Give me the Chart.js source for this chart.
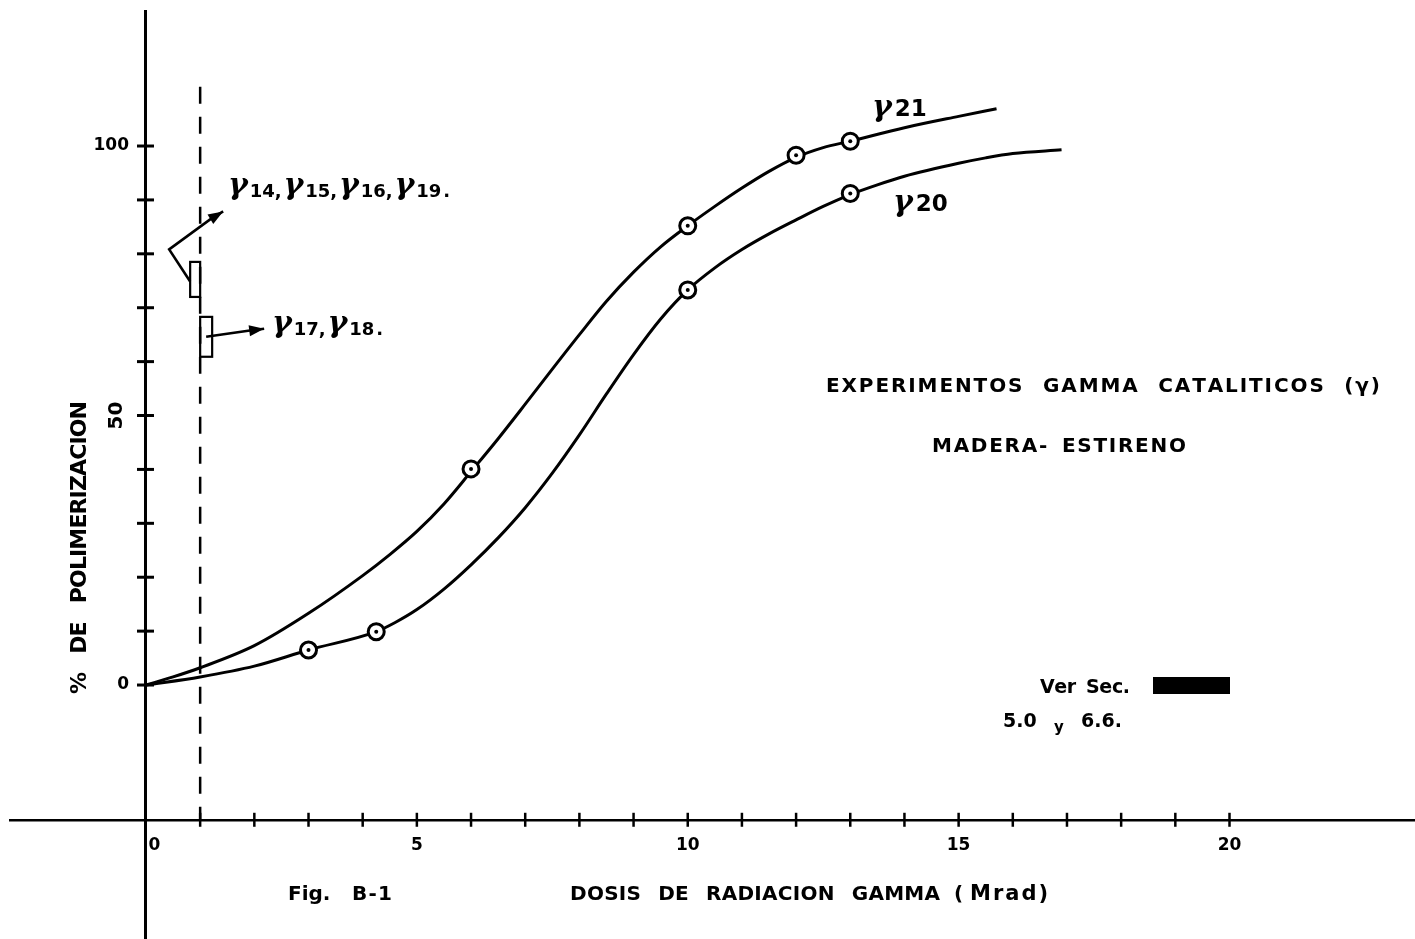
<!DOCTYPE html>
<html>
<head>
<meta charset="utf-8">
<title>Fig. B-1 Madera-Estireno</title>
<script src="https://cdn.jsdelivr.net/npm/chart.js@4.4.1/dist/chart.umd.min.js"></script>
<style>
  html, body { margin: 0; padding: 0; background: #fff; overflow: hidden; }
  canvas { display: block; }
</style>
</head>
<body>
<canvas id="c" width="1415" height="939"></canvas>
<script>
// ---- data: dose (Mrad) vs % polimerizacion ----
// smooth curves as drawn
const g21CurveDose  = [0, 0.5, 1, 2, 3, 4, 4.5, 5, 5.5, 6, 6.5, 7, 7.5, 8, 8.5, 9, 9.5, 10, 10.5, 11, 11.5, 12, 12.5, 13, 14, 15, 15.7];
const g21CurveYield = [0, 1.5, 3.2, 7.3, 13.3, 20.3, 24.2, 28.5, 33.6, 39.6, 45.7, 52.1, 58.6, 65.0, 71.2, 76.6, 81.3, 85.2, 88.8, 92.2, 95.3, 97.9, 99.7, 100.9, 103.4, 105.5, 106.9];
const g20CurveDose  = [0, 1, 2, 3, 4.25, 4.6, 5, 5.5, 6, 6.5, 7, 7.5, 8, 8.5, 9, 9.5, 10, 10.5, 11, 11.5, 12, 12.5, 13, 13.5, 14, 15, 15.5, 16, 16.9];
const g20CurveYield = [0, 1.5, 3.5, 6.5, 9.9, 11.6, 14.0, 17.8, 22.3, 27.3, 32.9, 39.3, 46.4, 54.0, 61.3, 67.9, 73.3, 77.4, 80.8, 83.7, 86.3, 88.8, 91.0, 92.8, 94.4, 96.8, 97.8, 98.6, 99.3];
// measured experiments (circled points)
const g21MarkDose  = [6, 10, 12, 13];
const g21MarkYield = [40.1, 85.2, 98.3, 100.9];
const g20MarkDose  = [3, 4.25, 10, 13];
const g20MarkYield = [6.5, 9.9, 73.3, 91.2];
// result ranges at 1 Mrad
const thresholdDose = 1;
const thresholdSpan = [111, -25];
const g14to19Range = [72, 78.5];
const g17to18Range = [60.9, 68.3];
// axes
const xTickValues  = [0,1,2,3,4,5,6,7,8,9,10,11,12,13,14,15,16,17,18,19,20];
const xLabelValues = [0, 5, 10, 15, 20];
const yTickValues  = [0,10,20,30,40,50,60,70,80,90,100];
const yLabelValues = [0, 100];
const ySideLabelValues = [50];   // written sideways, like the axis title
const xRange = [-2.51, 23.424];
const yRange = [-47.12, 125.05];
const doseAxisAt = -25;   // yield level where the dose axis is drawn
const yieldAxisAt = 0;    // dose where the yield axis is drawn

const FONT = "'DejaVu Sans', sans-serif";
const GAMMA_FONT = "'DejaVu Serif', serif";
Chart.defaults.font.family = FONT;
Chart.defaults.color = '#000';

const pts = (xs, ys) => xs.map((x, i) => ({ x, y: ys[i] }));

// spread characters of a string evenly between two x positions
function spread(ctx, text, left, right, base, font, spaceFactor) {
  ctx.font = font;
  const sf = spaceFactor || 2;
  const chars = Array.from(text);
  const w = chars.map(c => ctx.measureText(c).width * (c === ' ' ? sf : 1));
  const total = w.reduce((a, b) => a + b, 0);
  const gap = chars.length > 1 ? (right - left - total) / (chars.length - 1) : 0;
  let x = left;
  chars.forEach((c, i) => { if (c !== ' ') ctx.fillText(c, x, base); x += w[i] + gap; });
}
// runs of differently sized text spread between two x positions
function runs(ctx, parts, left, right, base) {
  const ws = parts.map(p => { ctx.font = p[1]; return ctx.measureText(p[0]).width; });
  const total = ws.reduce((a, b) => a + b, 0);
  const gap = parts.length > 1 ? (right - left - total) / (parts.length - 1) : 0;
  let x = left;
  parts.forEach((p, i) => { ctx.font = p[1]; ctx.fillText(p[0], x, base + (p[2] || 0)); x += ws[i] + gap; });
}
// runs with a fixed gap
function seq(ctx, parts, left, base, gap) {
  let x = left;
  parts.forEach(p => { ctx.font = p[1]; ctx.fillText(p[0], x, base + (p[2] || 0)); x += ctx.measureText(p[0]).width + gap; });
}
function arrow(ctx, path, tip) {
  ctx.beginPath();
  ctx.moveTo(path[0][0], path[0][1]);
  for (let i = 1; i < path.length; i++) ctx.lineTo(path[i][0], path[i][1]);
  ctx.lineTo(tip[0], tip[1]);
  ctx.stroke();
  const last = path[path.length - 1];
  const ang = Math.atan2(tip[1] - last[1], tip[0] - last[0]);
  const L = 15, H = 5.5;
  ctx.beginPath();
  ctx.moveTo(tip[0], tip[1]);
  ctx.lineTo(tip[0] - L * Math.cos(ang) + H * Math.sin(ang), tip[1] - L * Math.sin(ang) - H * Math.cos(ang));
  ctx.lineTo(tip[0] - L * Math.cos(ang) - H * Math.sin(ang), tip[1] - L * Math.sin(ang) + H * Math.cos(ang));
  ctx.closePath();
  ctx.fill();
}

const decorations = {
  id: 'decorations',
  afterDraw(chart) {
    const ctx = chart.ctx;
    const xs = chart.scales.x, ys = chart.scales.y;
    ctx.save();
    ctx.strokeStyle = '#000';
    ctx.fillStyle = '#000';
    ctx.lineCap = 'butt';

    // crossing tick marks on both axes
    const y0 = ys.getPixelForValue(doseAxisAt);
    ctx.lineWidth = 2.5;
    xs.ticks.forEach(t => {
      if (t.value === yieldAxisAt) return;
      const px = xs.getPixelForValue(t.value);
      ctx.beginPath(); ctx.moveTo(px, y0 - 7); ctx.lineTo(px, y0 + 7); ctx.stroke();
    });
    const x0 = xs.getPixelForValue(yieldAxisAt);
    ctx.lineWidth = 3;
    ys.ticks.forEach(t => {
      const py = ys.getPixelForValue(t.value);
      ctx.beginPath(); ctx.moveTo(x0 - 9, py); ctx.lineTo(x0 + 8, py); ctx.stroke();
    });

    // sideways tick label on the yield axis
    ySideLabelValues.forEach(v => {
      const py = ys.getPixelForValue(v);
      ctx.save();
      ctx.translate(x0 - 24, py);
      ctx.rotate(-Math.PI / 2);
      ctx.font = `bold 20px ${FONT}`;
      ctx.textAlign = 'center';
      ctx.textBaseline = 'alphabetic';
      ctx.fillText(String(v), 0, 0);
      ctx.restore();
    });

    // range brackets at 1 Mrad
    const x1 = xs.getPixelForValue(thresholdDose);
    const aTop = ys.getPixelForValue(g14to19Range[1]), aBot = ys.getPixelForValue(g14to19Range[0]);
    const bTop = ys.getPixelForValue(g17to18Range[1]), bBot = ys.getPixelForValue(g17to18Range[0]);
    ctx.lineWidth = 2.2;
    ctx.strokeRect(x1 - 10, aTop, 10, aBot - aTop);
    ctx.strokeRect(x1, bTop, 12, bBot - bTop);
    const midA = (aTop + aBot) / 2, midB = (bTop + bBot) / 2;
    ctx.lineWidth = 2.6;
    arrow(ctx, [[x1 - 10, midA + 2], [x1 - 31, midA - 30], [x1 + 10, midA - 60]], [x1 + 23, midA - 68]);
    arrow(ctx, [[x1 + 6, midB], [x1 + 48, midB - 6]], [x1 + 64, midB - 8]);

    // labels
    ctx.textBaseline = 'alphabetic';
    ctx.textAlign = 'left';
    const G = `italic bold 30px ${GAMMA_FONT}`;
    const S = `bold 18px ${FONT}`;
    const N = `bold 23px ${FONT}`;
    runs(ctx, [['γ', G], ['14,', S, 3], ['γ', G], ['15,', S, 3], ['γ', G], ['16,', S, 3], ['γ', G], ['19', S, 3], ['.', S, 3]], 228, 450, 194);
    runs(ctx, [['γ', G], ['17,', S, 3], ['γ', G], ['18', S, 3], ['.', S, 3]], 272, 383, 332);
    seq(ctx, [['γ', G], ['21', N, 0]], 872, 116, 3);
    seq(ctx, [['γ', G], ['20', N, 0]], 893, 211, 3);

    const T = `bold 20px ${FONT}`;
    spread(ctx, 'EXPERIMENTOS GAMMA CATALITICOS (γ)', 826, 1380, 392, T, 2.4);
    spread(ctx, 'MADERA- ESTIRENO', 932, 1186, 452, T, 1.6);
    spread(ctx, 'DOSIS DE RADIACION GAMMA', 570, 940, 900, T, 2.4);
    ctx.font = T;
    ctx.fillText('(', 954, 900);
    spread(ctx, 'Mrad)', 970, 1048, 900, `bold 21px ${FONT}`);
    ctx.font = T;
    ctx.fillText('Fig.', 288, 900);
    spread(ctx, 'B-1', 352, 392, 900, T);
    spread(ctx, 'Ver Sec.', 1040, 1130, 693, `bold 19px ${FONT}`, 1.6);
    runs(ctx, [['5.0', `bold 19px ${FONT}`], ['y', `bold 15px ${FONT}`, 5], ['6.6.', `bold 19px ${FONT}`]], 1003, 1122, 727);
    ctx.fillRect(1153, 677, 77, 17);

    ctx.save();
    ctx.translate(86, 694);
    ctx.rotate(-Math.PI / 2);
    spread(ctx, '% DE POLIMERIZACION', 0, 293, 0, `bold 22px ${FONT}`, 2.6);
    ctx.restore();

    ctx.restore();
  }
};

const allMarkDose = g21MarkDose.concat(g20MarkDose);
const allMarkYield = g21MarkYield.concat(g20MarkYield);

const flatten = s => { s.paddingLeft = 0; s.paddingRight = 0; s.paddingTop = 0; s.paddingBottom = 0; };

new Chart(document.getElementById('c'), {
  type: 'line',
  data: {
    datasets: [
      { label: 'centros', data: pts(allMarkDose, allMarkYield), showLine: false,
        pointRadius: 2, pointBackgroundColor: '#000', pointBorderWidth: 0 },
      { label: 'γ21 (medidas)', data: pts(g21MarkDose, g21MarkYield), showLine: false,
        pointRadius: 8, pointBorderWidth: 3, pointBorderColor: '#000', pointBackgroundColor: '#fff' },
      { label: 'γ20 (medidas)', data: pts(g20MarkDose, g20MarkYield), showLine: false,
        pointRadius: 8, pointBorderWidth: 3, pointBorderColor: '#000', pointBackgroundColor: '#fff' },
      { label: 'γ21', data: pts(g21CurveDose, g21CurveYield), borderColor: '#000', borderWidth: 3,
        pointRadius: 0, cubicInterpolationMode: 'monotone', fill: false },
      { label: 'γ20', data: pts(g20CurveDose, g20CurveYield), borderColor: '#000', borderWidth: 3,
        pointRadius: 0, cubicInterpolationMode: 'monotone', fill: false },
      { label: '1 Mrad', data: [{ x: thresholdDose, y: thresholdSpan[0] }, { x: thresholdDose, y: thresholdSpan[1] }],
        borderColor: '#000', borderWidth: 2.5, borderDash: [17, 13], pointRadius: 0, tension: 0, fill: false }
    ]
  },
  options: {
    responsive: false,
    maintainAspectRatio: false,
    devicePixelRatio: 1,
    animation: false,
    events: [],
    layout: { autoPadding: false, padding: { left: 10, top: 11, right: 0, bottom: 0 } },
    plugins: { legend: { display: false }, tooltip: { enabled: false }, title: { display: false } },
    scales: {
      x: {
        type: 'linear', min: xRange[0], max: xRange[1],
        position: { y: doseAxisAt },
        afterFit(s) { s.height = 0; flatten(s); },
        afterBuildTicks(s) { s.ticks = xTickValues.map(v => ({ value: v })); },
        grid: { display: false },
        border: { display: true, color: '#000', width: 2.5 },
        ticks: {
          autoSkip: false, maxRotation: 0, minRotation: 0, padding: 8, color: '#000',
          font: { family: FONT, size: 17, weight: 'bold' },
          callback: v => xLabelValues.includes(v) ? (v === 0 ? '\u2002\u20020' : String(v)) : ''
        }
      },
      y: {
        type: 'linear', min: yRange[0], max: yRange[1],
        position: { x: yieldAxisAt },
        afterFit(s) { s.width = 0; flatten(s); },
        afterBuildTicks(s) { s.ticks = yTickValues.map(v => ({ value: v })); },
        grid: { display: false },
        border: { display: true, color: '#000', width: 3 },
        ticks: {
          autoSkip: false, color: '#000',
          font: { family: FONT, size: 17, weight: 'bold' },
          callback: v => yLabelValues.includes(v) ? v + '\u2003' : ''
        }
      }
    }
  },
  plugins: [decorations]
});
</script>
</body>
</html>
